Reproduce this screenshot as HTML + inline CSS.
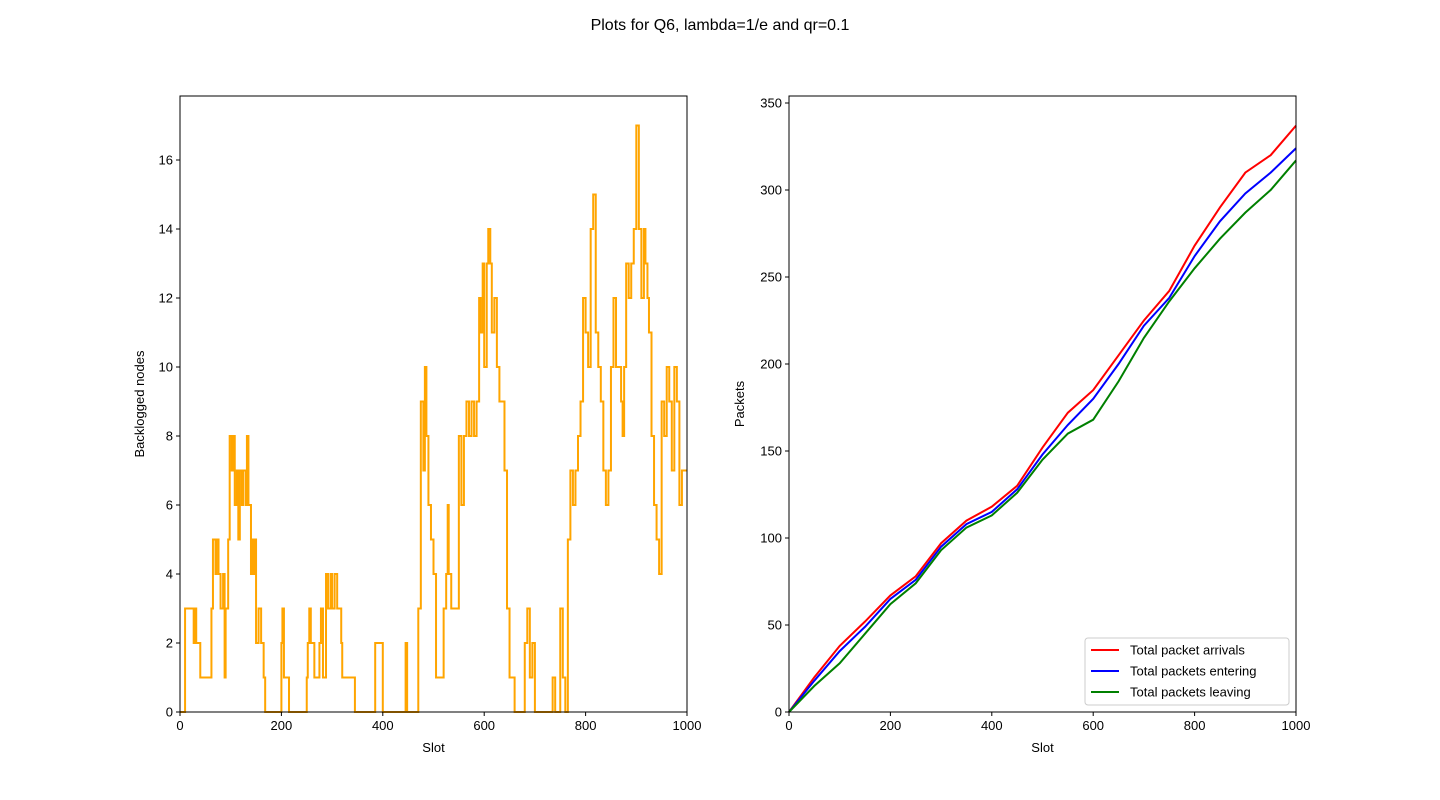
<!DOCTYPE html>
<html><head><meta charset="utf-8">
<style>
body{margin:0;background:#fff;}
svg{display:block;font-family:"Liberation Sans","DejaVu Sans",sans-serif;}
</style></head>
<body>
<svg id="fig" width="1440" height="800">
<rect width="1440" height="800" fill="#fff"/>
<text x="720" y="30" text-anchor="middle" font-size="16">Plots for Q6, lambda=1/e and qr=0.1</text>
<g id="left"></g>
<g id="right"></g>
</svg>
<script>
// Left chart: backlogged nodes (step points slot, value)
const backlogSlots = [0,10,25,27,30,32,40,60,62,65,70,72,76,80,85,88,90,95,98,102,105,108,112,115,118,122,125,130,132,135,140,143,146,148,150,155,160,165,168,200,202,205,215,250,252,255,258,265,275,278,282,288,292,297,300,305,310,318,320,345,385,400,445,448,470,475,480,483,486,490,495,500,505,520,525,528,530,535,550,555,560,565,570,575,580,585,590,593,597,600,605,608,612,615,620,625,630,640,645,650,660,680,685,690,695,700,735,740,750,755,760,765,770,775,780,785,790,795,800,805,810,815,820,825,830,835,840,845,850,855,860,870,873,876,880,885,890,895,900,905,910,915,918,922,925,930,935,940,945,950,955,960,965,970,975,980,985,990,1000];
const backlogValues = [0,3,3,2,3,2,1,1,3,5,4,5,4,3,4,1,3,5,8,7,8,6,7,5,7,6,7,6,8,6,4,5,4,5,2,3,2,1,0,2,3,1,0,1,2,3,2,1,2,3,1,4,3,4,3,4,3,2,1,0,2,0,2,0,3,9,7,10,8,6,5,4,1,3,4,6,4,3,8,6,8,9,8,9,8,9,12,11,13,10,13,14,13,11,12,10,9,7,3,1,0,2,3,1,2,0,1,0,3,1,0,5,7,6,7,8,9,12,11,10,14,15,11,10,9,7,6,7,10,12,10,9,8,10,13,12,13,14,17,14,12,14,13,12,11,8,6,5,4,9,8,10,9,7,10,9,6,7,7];
const leftXTicks = [0,200,400,600,800,1000];
const leftYTicks = [0,2,4,6,8,10,12,14,16];

// Right chart: cumulative packets
const pktSlots = [0,50,100,150,200,250,300,350,400,450,500,550,600,650,700,750,800,850,900,950,1000];
const arrivals = [0,20,38,52,67,78,97,110,118,130,152,172,185,205,225,242,268,290,310,320,337];
const entering = [0,18,35,49,65,76,95,108,115,128,148,165,180,200,222,238,262,282,298,310,324];
const leaving  = [0,15,28,45,62,74,93,106,113,126,145,160,168,190,215,236,255,272,287,300,317];
const rightXTicks = [0,200,400,600,800,1000];
const rightYTicks = [0,50,100,150,200,250,300,350];

const NS="http://www.w3.org/2000/svg";
function mk(parent,tag,attrs){const e=document.createElementNS(NS,tag);for(const k in attrs)e.setAttribute(k,attrs[k]);parent.appendChild(e);return e;}

function drawAxes(g,x0,x1,y0,y1,xs,ys,xt,yt,ylabel){
  xt.forEach(v=>{const x=xs(v);
    mk(g,'line',{x1:x,x2:x,y1:y0,y2:y0+4,stroke:'#000'});
    const t=mk(g,'text',{x:x,y:y0+18,'text-anchor':'middle','font-size':13});t.textContent=v;
    
    
  });
  yt.forEach(v=>{const y=ys(v);
    mk(g,'line',{x1:x0-4,x2:x0,y1:y,y2:y,stroke:'#000'});
    const t=mk(g,'text',{x:x0-7,y:y+4.5,'text-anchor':'end','font-size':13});t.textContent=v;
    
    
  });
  const xl=mk(g,'text',{x:(x0+x1)/2,y:y0+40,'text-anchor':'middle','font-size':13});xl.textContent='Slot';
  
  
  const yl=mk(g,'text',{x:0,y:0,'text-anchor':'middle','font-size':13,transform:`translate(${ylabel[1]},${(y0+y1)/2}) rotate(-90)`});yl.textContent=ylabel[0];
  
  
}

// Left
(function(){
  const g=document.getElementById('left');
  const x0=180,x1=687,y0=712,y1=96;
  const xs=v=>x0+(v/1000)*(x1-x0);
  const ys=v=>y0-v*(y0-160)/16;
  let d='';
  for(let i=0;i<backlogSlots.length;i++){
    const x=xs(backlogSlots[i]),y=ys(backlogValues[i]);
    if(i===0)d+=`M${x},${y}`;else d+=`H${x}V${y}`;
  }
  const p=mk(g,'path',{d:d,fill:'none',stroke:'#ffa500','stroke-width':2,'clip-path':'url(#cl)'});
  
  
  const r=mk(g,'rect',{x:x0,y:y1,width:x1-x0,height:y0-y1,fill:'none',stroke:'#000','stroke-width':1});
  
  
  drawAxes(g,x0,x1,y0,y1,xs,ys,leftXTicks,leftYTicks,['Backlogged nodes',144]);
})();

// Right
(function(){
  const g=document.getElementById('right');
  const x0=789,x1=1296,y0=712,y1=96;
  const xs=v=>x0+(v/1000)*(x1-x0);
  const ys=v=>y0-v*(y0-103)/350;
  const series=[[arrivals,'#ff0000','arrivals-line'],[entering,'#0000ff','entering-line'],[leaving,'#008000','leaving-line']];
  series.forEach(s=>{
    const pts=pktSlots.map((v,i)=>`${xs(v)},${ys(s[0][i])}`).join(' ');
    const l=mk(g,'polyline',{points:pts,fill:'none',stroke:s[1],'stroke-width':2});
    
    
  });
  const r=mk(g,'rect',{x:x0,y:y1,width:x1-x0,height:y0-y1,fill:'none',stroke:'#000','stroke-width':1});
  
  
  drawAxes(g,x0,x1,y0,y1,xs,ys,rightXTicks,rightYTicks,['Packets',744]);
  const lg=mk(g,'g',{});
  
  
  mk(lg,'rect',{x:1085,y:638,width:204,height:67,rx:3,fill:'#fff',stroke:'#ccc'});
  const names=['Total packet arrivals','Total packets entering','Total packets leaving'];
  names.forEach((n,i)=>{
    const y=650+i*21;
    mk(lg,'line',{x1:1091,x2:1119,y1:y,y2:y,stroke:series[i][1],'stroke-width':2});
    const t=mk(lg,'text',{x:1130,y:y+4.5,'font-size':13});t.textContent=n;
    
    
  });
})();
</script>
</body></html>
